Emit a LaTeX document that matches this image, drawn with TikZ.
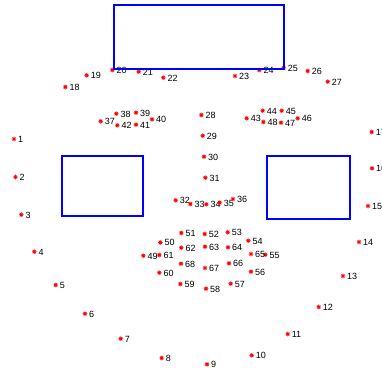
\documentclass[tikz,border=0pt]{standalone}
\usepackage{fontspec}
\setmainfont{Liberation Sans}
\begin{document}
\begin{tikzpicture}[x=1pt,y=-1pt,
  mk/.style={red,line width=0.65pt},
  lbl/.style={anchor=west,inner sep=0pt,xshift=4pt,yshift=-0.4pt,font=\fontsize{9}{10}\selectfont,text=black},
  facebox/.style={draw=blue,line width=2pt,line join=miter}]
\useasboundingbox (0,0) rectangle (382,374);
\foreach \n/\x/\y in {
1/14/139, 2/15.5/177, 3/21.3/214.7, 4/34.3/251.7, 5/55.7/285, 6/85/313.7,
7/120.7/338.7, 8/161.7/358, 9/207/364.3, 10/251.7/355.3, 11/287.7/334,
12/318.7/307, 13/343/276, 14/359/242, 15/368/206, 16/372/168.3, 17/371.7/132,
18/65.3/87, 19/86.7/75.3, 20/112.3/70, 21/138.7/71.7, 22/163.3/77.7,
23/235/76, 24/259.3/70, 25/283.7/67.7, 26/307.7/71, 27/327.7/81.7,
28/201.3/115, 29/202.7/135.7, 30/204/156.7, 31/205.3/177.7,
32/175.7/200.3, 33/190.3/204, 34/206.3/204.3, 35/219.7/202.7, 36/233/199,
37/100.7/121.3, 38/116.3/113.7, 39/136/112.7, 40/152/119.3, 41/136/124.7, 42/117.3/125.3,
43/246.7/118.3, 44/262.7/110.7, 45/281.7/110.7, 46/297.7/118.3, 47/281/122.7, 48/263.3/122,
49/143.3/255.7, 50/160.3/242.5, 51/181.3/233, 52/204.7/234, 53/227.7/232.3,
54/248.3/240.7, 55/265.3/254.7, 56/251/271.7, 57/230.7/283.7, 58/206/288.7,
59/180.3/284, 60/159.3/272.7, 61/159.3/255, 62/181.3/247.7, 63/205/246.7,
64/228/247.3, 65/251/254, 66/229/263.3, 67/205/268, 68/181/263.7}
{
  \coordinate (p\n) at (\x,\y);
  \draw[mk,shift={(p\n)}] (-2.3,0)--(2.3,0) (0,-2.3)--(0,2.3) (-1.6,-1.6)--(1.6,1.6) (-1.6,1.6)--(1.6,-1.6);
  \node[lbl] (l\n) at (p\n) {\n};
}
\draw[facebox] (114,5) rectangle (284,69);
\draw[facebox] (62,156) rectangle (143,216);
\draw[facebox] (267,156) rectangle (350,219);
\end{tikzpicture}
\end{document}
